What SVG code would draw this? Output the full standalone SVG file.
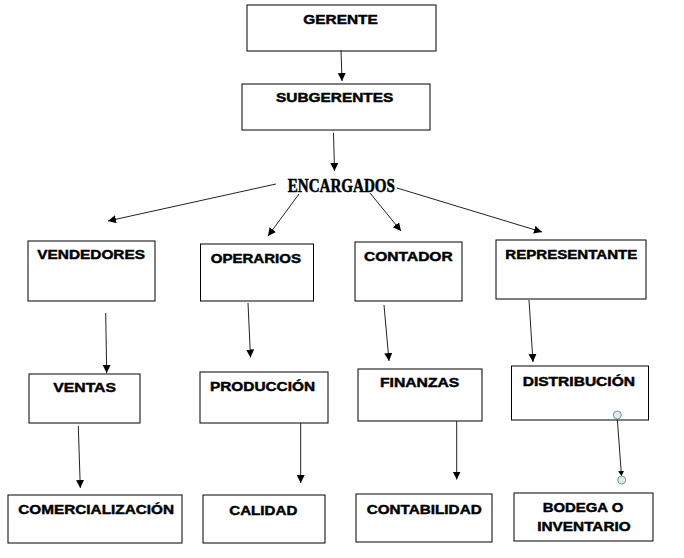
<svg xmlns="http://www.w3.org/2000/svg" width="684" height="558" viewBox="0 0 684 558">
<defs>
<marker id="ah" markerUnits="userSpaceOnUse" markerWidth="10" markerHeight="10" refX="8" refY="4" orient="auto">
<path d="M0,0 L8,4 L0,8 Z" fill="#000"/>
</marker>
<marker id="ahs" markerUnits="userSpaceOnUse" markerWidth="8" markerHeight="8" refX="5" refY="3" orient="auto">
<path d="M0,0 L5,3 L0,6 Z" fill="#000"/>
</marker>
<style>
rect{fill:#fff;stroke:#000;stroke-width:1}
text{font-family:"Liberation Sans",Arial,sans-serif;font-weight:bold;font-size:13px;fill:#000;stroke:#000;stroke-width:0.45}
.enc{font-family:"Liberation Serif","Times New Roman",serif;font-size:18px;stroke-width:0.5}
#connectors line{stroke:#222;stroke-width:1;marker-end:url(#ah)}
#connectors line.s{marker-end:url(#ahs)}
circle{fill:#d9edf3;stroke:#7f8f99;stroke-width:1}
</style>
</defs>
<rect x="0" y="0" width="684" height="558" style="fill:#fff;stroke:none"/>
<g id="gerente"><rect x="247" y="5" width="189" height="46"/><text x="303.3" y="24" textLength="74.4" lengthAdjust="spacingAndGlyphs">GERENTE</text></g>
<g id="subgerentes"><rect x="242" y="84" width="188" height="46"/><text x="276" y="102" textLength="117.3" lengthAdjust="spacingAndGlyphs">SUBGERENTES</text></g>
<g id="encargados"><text class="enc" x="287.7" y="191.5" textLength="107.3" lengthAdjust="spacingAndGlyphs">ENCARGADOS</text></g>
<g id="vendedores"><rect x="28" y="241" width="127" height="60"/><text x="37.3" y="259.3" textLength="107.7" lengthAdjust="spacingAndGlyphs">VENDEDORES</text></g>
<g id="operarios"><rect x="200.5" y="244" width="113" height="57"/><text x="210.7" y="262.7" textLength="90.3" lengthAdjust="spacingAndGlyphs">OPERARIOS</text></g>
<g id="contador"><rect x="355" y="242" width="107" height="59"/><text x="364" y="260.7" textLength="88.7" lengthAdjust="spacingAndGlyphs">CONTADOR</text></g>
<g id="representante"><rect x="496" y="240" width="150" height="59"/><text x="505.3" y="259" textLength="132" lengthAdjust="spacingAndGlyphs">REPRESENTANTE</text></g>
<g id="ventas"><rect x="29" y="374" width="111" height="49"/><text x="53.3" y="392.3" textLength="62.7" lengthAdjust="spacingAndGlyphs">VENTAS</text></g>
<g id="produccion"><rect x="200" y="372" width="128" height="51"/><text x="210" y="390.7" textLength="105" lengthAdjust="spacingAndGlyphs">PRODUCCIÓN</text></g>
<g id="finanzas"><rect x="358" y="369" width="124" height="52"/><text x="380" y="386.7" textLength="79.3" lengthAdjust="spacingAndGlyphs">FINANZAS</text></g>
<g id="distribucion"><rect x="511.5" y="366" width="137" height="54"/><text x="522.7" y="385.7" textLength="112.3" lengthAdjust="spacingAndGlyphs">DISTRIBUCIÓN</text></g>
<g id="comercializacion"><rect x="8" y="495" width="174" height="48"/><text x="18.3" y="514" textLength="155.7" lengthAdjust="spacingAndGlyphs">COMERCIALIZACIÓN</text></g>
<g id="calidad"><rect x="203" y="495" width="122" height="48"/><text x="229.3" y="515" textLength="68" lengthAdjust="spacingAndGlyphs">CALIDAD</text></g>
<g id="contabilidad"><rect x="356" y="494" width="136" height="48"/><text x="366.7" y="514" textLength="115" lengthAdjust="spacingAndGlyphs">CONTABILIDAD</text></g>
<g id="bodega"><rect x="514" y="493" width="139" height="48"/><text x="542.7" y="511.7" textLength="80.6" lengthAdjust="spacingAndGlyphs">BODEGA O</text><text x="537.3" y="530.7" textLength="93.4" lengthAdjust="spacingAndGlyphs">INVENTARIO</text></g>
<g id="connectors">
<line x1="341" y1="50" x2="342" y2="81"/>
<line x1="333.5" y1="133" x2="334.5" y2="171"/>
<line x1="276" y1="184" x2="108" y2="221"/>
<line x1="299" y1="194" x2="268" y2="236"/>
<line x1="370" y1="193" x2="401" y2="231"/>
<line x1="397" y1="188" x2="542" y2="232"/>
<line x1="105.7" y1="313" x2="106.7" y2="373"/>
<line x1="248" y1="303" x2="250.5" y2="357.5"/>
<line x1="384" y1="305" x2="389" y2="361"/>
<line x1="529" y1="300" x2="533" y2="362"/>
<line x1="78.3" y1="426" x2="80.3" y2="488"/>
<line x1="300.7" y1="423" x2="300.7" y2="483"/>
<line x1="456.7" y1="421" x2="456.7" y2="479.5"/>
<line class="s" x1="617.3" y1="419" x2="621.5" y2="476"/>
<circle cx="617.3" cy="415" r="4"/>
<circle cx="621.7" cy="480" r="4"/>
</g>
</svg>
